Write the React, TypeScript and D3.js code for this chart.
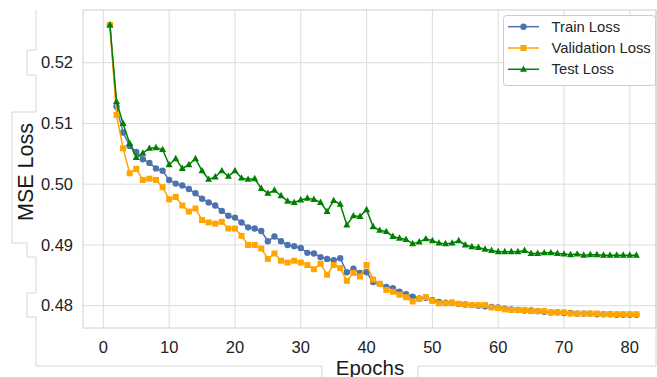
import React from 'react';
import * as d3 from 'd3';

const epochs = d3.range(1, 82);

const trainLoss = [
  0.5262, 0.5128, 0.5085, 0.5063, 0.5053, 0.5041, 0.5035, 0.5026, 0.5022, 0.5007,
  0.5001, 0.4998, 0.4992, 0.4985, 0.4976, 0.4970, 0.4965, 0.4956, 0.4948, 0.4945,
  0.4937, 0.4929, 0.4927, 0.4923, 0.4906, 0.4914, 0.4906, 0.4900, 0.4898, 0.4895,
  0.4887, 0.4886, 0.4880, 0.4877, 0.4875, 0.4878, 0.4855, 0.4861, 0.4854, 0.4855,
  0.4839, 0.4836, 0.4831, 0.4829, 0.4823, 0.4819, 0.4815, 0.4812, 0.4813, 0.4809,
  0.4806, 0.4805, 0.4805, 0.4803, 0.4802, 0.4801, 0.4800, 0.4799, 0.4798, 0.4797,
  0.4795, 0.4794, 0.4793, 0.4792, 0.4792, 0.4791, 0.4790, 0.4789, 0.4789, 0.4788,
  0.4788, 0.4787, 0.4787, 0.4787, 0.4786, 0.4786, 0.4786, 0.4785, 0.4785, 0.4785,
  0.4785,
];

const valLoss = [
  0.5262, 0.5114, 0.5059, 0.5018, 0.5025, 0.5007, 0.5009, 0.5007, 0.4995, 0.4975,
  0.4979, 0.4965, 0.4955, 0.4960, 0.4941, 0.4937, 0.4935, 0.4938, 0.4927, 0.4927,
  0.4915, 0.4900, 0.4900, 0.4894, 0.4877, 0.4886, 0.4874, 0.4871, 0.4874, 0.4871,
  0.4867, 0.4860, 0.4869, 0.4851, 0.4867, 0.4862, 0.4841, 0.4854, 0.4848, 0.4867,
  0.4843, 0.4836, 0.4826, 0.4823, 0.4818, 0.4814, 0.4807, 0.4811, 0.4814, 0.4808,
  0.4804, 0.4804, 0.4805, 0.4803, 0.4802, 0.4801, 0.4801, 0.4801, 0.4797, 0.4796,
  0.4794, 0.4793, 0.4793, 0.4793, 0.4791, 0.4791, 0.4791, 0.4789, 0.4789, 0.4789,
  0.4787, 0.4787, 0.4787, 0.4787, 0.4787, 0.4786, 0.4786, 0.4786, 0.4786, 0.4786,
  0.4786,
];

const testLoss = [
  0.5262, 0.5136, 0.5100, 0.5067, 0.5044, 0.5051, 0.5059, 0.5060, 0.5057, 0.5032,
  0.5042, 0.5026, 0.5032, 0.5042, 0.5022, 0.5008, 0.5012, 0.5022, 0.5013, 0.5022,
  0.5010, 0.5008, 0.5009, 0.4993, 0.4985, 0.4990, 0.4981, 0.4972, 0.4970, 0.4974,
  0.4977, 0.4975, 0.4970, 0.4955, 0.4973, 0.4967, 0.4933, 0.4948, 0.4947, 0.4958,
  0.4930, 0.4924, 0.4922, 0.4914, 0.4911, 0.4909, 0.4902, 0.4905, 0.4910, 0.4907,
  0.4903, 0.4902, 0.4903, 0.4907, 0.4900, 0.4897, 0.4896, 0.4893, 0.4891, 0.4889,
  0.4889, 0.4889, 0.4889, 0.4891, 0.4886, 0.4886, 0.4887, 0.4887, 0.4886, 0.4885,
  0.4884, 0.4885, 0.4883, 0.4884, 0.4884, 0.4883, 0.4883, 0.4883, 0.4883, 0.4883,
  0.4883,
];

const xTicks = [0, 10, 20, 30, 40, 50, 60, 70, 80];
const yTicks = [0.48, 0.49, 0.5, 0.51, 0.52];

const series = [
  { name: 'Train Loss', values: trainLoss, color: '#4c72b0', marker: 'circle' },
  { name: 'Validation Loss', values: valLoss, color: '#ffa500', marker: 'square' },
  { name: 'Test Loss', values: testLoss, color: '#008000', marker: 'triangle' },
];

const W = 657;
const H = 377;
const font = '"Liberation Sans", Arial, sans-serif';
const plot = { left: 83, top: 10, right: 656, bottom: 328 };

const Marker = ({ type, x, y, color }) => {
  if (type === 'circle') return <circle cx={x} cy={y} r={3.2} fill={color} />;
  if (type === 'square') return <rect x={x - 3} y={y - 3} width={6} height={6} fill={color} />;
  return <path d={`M${x},${y - 3.9}L${x + 3.5},${y + 2.5}L${x - 3.5},${y + 2.5}Z`} fill={color} />;
};

export default function App() {
  const x = d3.scaleLinear().domain([-3, 85]).range([83.6, 662.7]);
  const y = d3.scaleLinear().domain([0.47633, 0.52867]).range([plot.bottom, plot.top]);
  const line = d3.line<number>().x((_, i) => x(epochs[i])).y(d => y(d));
  const fmt = d3.format('.2f');
  const grid = '#dcdcdc';

  return (
    <svg width={W} height={H} style={{ position: 'absolute', left: 0, top: 0, background: '#fff' }} fontFamily={font}>
      {/* page frame pieces around the picture */}
      <path
        d="M36,10V50H27V75H36V112H12V243H27V257H36V293H27V317H36V366H322V377M418,377V366H656V10"
        fill="none" stroke="#d6d6d6" strokeWidth={1}
      />

      {xTicks.map(t => (
        <line key={'gx' + t} x1={x(t)} x2={x(t)} y1={plot.top} y2={plot.bottom} stroke={grid} strokeWidth={1} />
      ))}
      {yTicks.map(t => (
        <line key={'gy' + t} x1={plot.left} x2={plot.right} y1={y(t)} y2={y(t)} stroke={grid} strokeWidth={1} />
      ))}
      <rect x={plot.left} y={plot.top} width={plot.right - plot.left} height={plot.bottom - plot.top}
        fill="none" stroke="#d0d0d0" strokeWidth={1} />

      {series.map(s => (
        <g key={s.name}>
          <path d={line(s.values) || ''} fill="none" stroke={s.color} strokeWidth={1.5} />
          {s.values.map((v, i) => (
            <Marker key={i} type={s.marker} x={x(epochs[i])} y={y(v)} color={s.color} />
          ))}
        </g>
      ))}

      {yTicks.map(t => (
        <text key={'ty' + t} x={73} y={y(t)} dy="0.35em" textAnchor="end" fontSize={16.5} fill="#222">
          {fmt(t)}
        </text>
      ))}
      {xTicks.map(t => (
        <text key={'tx' + t} x={x(t)} y={353} textAnchor="middle" fontSize={16.5} fill="#222">
          {t}
        </text>
      ))}

      <text x={370} y={374.5} textAnchor="middle" fontSize={20.5} fill="#1a1a1a">Epochs</text>
      <text transform="translate(33,172) rotate(-90)" textAnchor="middle" fontSize={21.5} fill="#1a1a1a">MSE Loss</text>

      <g>
        <rect x={503.5} y={15.5} width={152} height={70} rx={3} fill="#fff" fillOpacity={0.85} stroke="#cccccc" />
        {series.map((s, i) => {
          const ly = 26.7 + i * 21.3;
          return (
            <g key={'lg' + s.name}>
              <line x1={508} x2={539} y1={ly} y2={ly} stroke={s.color} strokeWidth={1.5} />
              <Marker type={s.marker} x={523.5} y={ly} color={s.color} />
              <text x={551.5} y={ly} dy="0.35em" fontSize={14.8} fill="#262626">{s.name}</text>
            </g>
          );
        })}
      </g>
    </svg>
  );
}
